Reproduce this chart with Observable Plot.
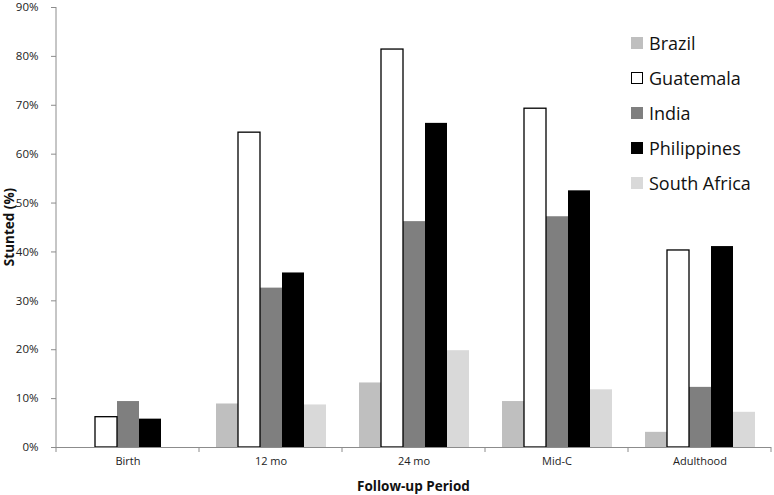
<!DOCTYPE html>
<html>
<head>
<meta charset="utf-8">
<script src="https://cdn.jsdelivr.net/npm/d3@7"></script>
<script src="https://cdn.jsdelivr.net/npm/@observablehq/plot@0.6"></script>
<style>
  html, body { margin: 0; padding: 0; background: #fff; }
  #wrap { position: relative; width: 774px; height: 495px; font-family: "Open Sans", sans-serif; }
  #legend { position: absolute; left: 631px; top: 25px; }
  .row { display: flex; align-items: center; height: 35px; font-size: 18px; color: #111; }
  .sw { width: 12px; height: 12px; margin-right: 6px; box-sizing: border-box; }
</style>
</head>
<body>
<div id="wrap"><div id="legend"></div></div>
<script>
const periods = ["Birth", "12 mo", "24 mo", "Mid-C", "Adulthood"];
const countries = ["Brazil", "Guatemala", "India", "Philippines", "South Africa"];
const brazil      = [null, 0.089, 0.132, 0.094, 0.031];
const guatemala   = [0.062, 0.644, 0.814, 0.693, 0.403];
const india       = [0.094, 0.326, 0.462, 0.472, 0.123];
const philippines = [0.058, 0.357, 0.663, 0.525, 0.411];
const southAfrica = [null, 0.087, 0.198, 0.118, 0.072];
const colors = ["#bfbfbf", "#ffffff", "#7f7f7f", "#000000", "#d9d9d9"];
const yTicks = [0, 0.1, 0.2, 0.3, 0.4, 0.5, 0.6, 0.7, 0.8, 0.9];

const series = [brazil, guatemala, india, philippines, southAfrica];
const data = [];
periods.forEach((p, i) => countries.forEach((c, j) => {
  data.push({period: p, country: c, value: series[j][i]});
}));

const chart = Plot.plot({
  width: 774, height: 495,
  marginLeft: 54, marginRight: 2, marginTop: 7, marginBottom: 48,
  style: {fontFamily: "Open Sans, sans-serif", fontSize: "11px", color: "#222", background: "white", overflow: "visible"},
  fx: {domain: periods, padding: 0, label: null},
  x: {domain: countries, paddingInner: 0, paddingOuter: 0.71, axis: null},
  y: {domain: [0, 0.9]},
  color: {domain: countries, range: colors},
  marks: [
    Plot.barY(data.filter(d => d.country !== "Guatemala"), {fx: "period", x: "country", y: "value", fill: "country"}),
    Plot.barY(data.filter(d => d.country === "Guatemala"), {fx: "period", x: "country", y: "value", fill: "white", stroke: "black", strokeWidth: 1.3}),
    Plot.ruleY([0], {stroke: "#8c8c8c", strokeWidth: 1}),
    Plot.axisY({ticks: yTicks, tickFormat: d => Math.round(d * 100) + "%", tickSize: 5, tickPadding: 13, stroke: "#8c8c8c", fontSize: 11.5, label: null}),
    Plot.axisFx({anchor: "bottom", tickSize: 0, tickPadding: 10, label: null})
  ]
});

const svg = d3.select(chart);
const fx = chart.scale("fx");
const y = chart.scale("y");
const y0 = y.apply(0), yTop = y.apply(0.9);
const xLeft = fx.apply(periods[0]);
const xRight = fx.apply(periods[periods.length - 1]) + fx.bandwidth;

// y-axis line
svg.append("line").attr("x1", xLeft).attr("x2", xLeft).attr("y1", yTop).attr("y2", y0)
  .attr("stroke", "#8c8c8c");
// boundary ticks on x axis
const bounds = periods.map(p => fx.apply(p)).concat([xRight]);
bounds.forEach(b => svg.append("line").attr("x1", b).attr("x2", b).attr("y1", y0).attr("y2", y0 + 5)
  .attr("stroke", "#8c8c8c"));
// axis titles
svg.append("text").attr("x", (xLeft + xRight) / 2).attr("y", y0 + 44)
  .attr("text-anchor", "middle").attr("font-weight", "bold").attr("font-size", 13.5)
  .attr("fill", "#111").text("Follow-up Period");
svg.append("text").attr("transform", `translate(14,${(y0 + yTop) / 2}) rotate(-90)`)
  .attr("text-anchor", "middle").attr("font-weight", "bold").attr("font-size", 13.5)
  .attr("fill", "#111").text("Stunted (%)");

document.getElementById("wrap").prepend(chart);

const legend = document.getElementById("legend");
countries.forEach((c, i) => {
  const row = document.createElement("div");
  row.className = "row";
  const sw = document.createElement("div");
  sw.className = "sw";
  sw.style.background = colors[i];
  if (c === "Guatemala") sw.style.border = "1.3px solid #000";
  const t = document.createElement("span");
  t.textContent = c;
  row.appendChild(sw); row.appendChild(t);
  legend.appendChild(row);
});
</script>
</body>
</html>
